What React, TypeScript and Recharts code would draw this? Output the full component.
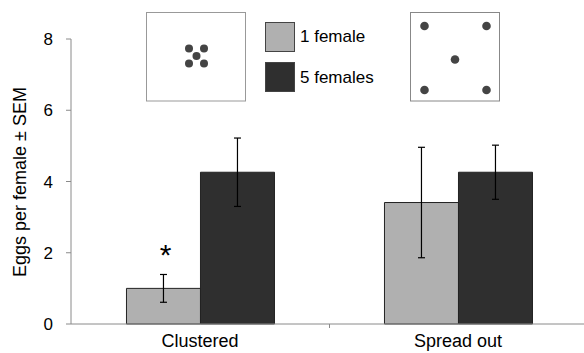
import React from "react"
import { BarChart, Bar, XAxis, YAxis, ErrorBar, LabelList, Legend } from "recharts"

const categories = ["Clustered", "Spread out"]
const oneFemale = [1.0, 3.41]
const oneFemaleSem = [0.39, 1.55]
const fiveFemales = [4.26, 4.26]
const fiveFemalesSem = [0.96, 0.76]
const sigMarks = ["*", ""]
const yTicks = [0, 2, 4, 6, 8]

const data = categories.map((name, i) => ({
  name,
  one: oneFemale[i],
  oneErr: oneFemaleSem[i],
  five: fiveFemales[i],
  fiveErr: fiveFemalesSem[i],
  sig: sigMarks[i],
}))

const font = "'Liberation Sans', Arial, sans-serif"
const axisGray = "#8a8a8a"

function LegendBox({ payload }: any) {
  return (
    <div style={{ fontFamily: font, fontSize: 17, color: "#000" }}>
      {(payload || []).map((p: any, i: number) => (
        <div key={i} style={{ display: "flex", alignItems: "center", height: 30, marginBottom: 10 }}>
          <div
            style={{
              width: 28,
              height: 28,
              background: p.color,
              border: "1px solid #444",
              marginRight: 5,
            }}
          />
          <span style={{ marginTop: i * 2 }}>{p.value}</span>
        </div>
      ))}
    </div>
  )
}

function SigLabel(props: any) {
  const { x, y, width, value } = props
  if (!value) return null
  return (
    <text x={x + width / 2 + 2} y={y - 23} textAnchor="middle" fontSize={30} fontFamily={font} fill="#000">
      {value}
    </text>
  )
}

function YLabel() {
  return (
    <text
      x={20}
      y={182}
      transform="rotate(-90, 20, 182)"
      textAnchor="middle"
      dominantBaseline="central"
      fontSize={18}
      fontFamily={font}
      fill="#000"
    >
      Eggs per female ± SEM
    </text>
  )
}

function Insets() {
  const dot = "#444"
  return (
    <svg width={584} height={353} style={{ position: "absolute", left: 0, top: 0, pointerEvents: "none" }}>
      <rect x={146.5} y={12.5} width={99} height={88.5} fill="#fff" stroke="#999" />
      <circle cx={189} cy={48.5} r={4} fill={dot} />
      <circle cx={204} cy={48.5} r={4} fill={dot} />
      <circle cx={196.5} cy={56} r={4} fill={dot} />
      <circle cx={189} cy={63.5} r={4} fill={dot} />
      <circle cx={204} cy={63.5} r={4} fill={dot} />
      <rect x={410.5} y={12.5} width={89} height={88.5} fill="#fff" stroke="#888" />
      <circle cx={424.5} cy={26} r={4.3} fill={dot} />
      <circle cx={486.5} cy={26} r={4.3} fill={dot} />
      <circle cx={455} cy={59.5} r={4.3} fill={dot} />
      <circle cx={424.5} cy={90} r={4.3} fill={dot} />
      <circle cx={486.5} cy={90} r={4.3} fill={dot} />
      <line x1={329.5} y1={324} x2={329.5} y2={328} stroke={axisGray} />
    </svg>
  )
}

export default function App() {
  return (
    <div style={{ position: "absolute", left: 0, top: 0, width: 584, height: 353, background: "#fff" }}>
      <BarChart
        width={584}
        height={353}
        data={data}
        margin={{ top: 39, right: -3, bottom: 0, left: 0 }}
        barCategoryGap="21.5%"
        barGap={0}
      >
        <XAxis
          dataKey="name"
          height={29}
          axisLine={{ stroke: axisGray }}
          tickLine={false}
          tickSize={0}
          tickMargin={10}
          tick={{ fontSize: 18, fontFamily: font, fill: "#000" }}
        />
        <YAxis
          width={71}
          domain={[0, 8]}
          ticks={yTicks}
          axisLine={{ stroke: axisGray }}
          tickLine={{ stroke: axisGray }}
          tickSize={5}
          tickMargin={13}
          tick={{ fontSize: 17, fontFamily: font, fill: "#000" }}
        />
        <Legend
          layout="vertical"
          align="center"
          verticalAlign="middle"
          content={<LegendBox />}
          wrapperStyle={{ position: "absolute", left: 265, top: 22, width: 150 }}
        />
        <Bar dataKey="one" name="1 female" fill="#b0b0b0" stroke="#222" strokeWidth={1} isAnimationActive={false}>
          <ErrorBar dataKey="oneErr" width={3.5} stroke="#000" strokeWidth={1.2} />
          <LabelList dataKey="sig" content={<SigLabel />} />
        </Bar>
        <Bar dataKey="five" name="5 females" fill="#2f2f2f" stroke="#222" strokeWidth={1} isAnimationActive={false}>
          <ErrorBar dataKey="fiveErr" width={3.5} stroke="#000" strokeWidth={1.2} />
        </Bar>
        <YLabel />
      </BarChart>
      <Insets />
    </div>
  )
}
